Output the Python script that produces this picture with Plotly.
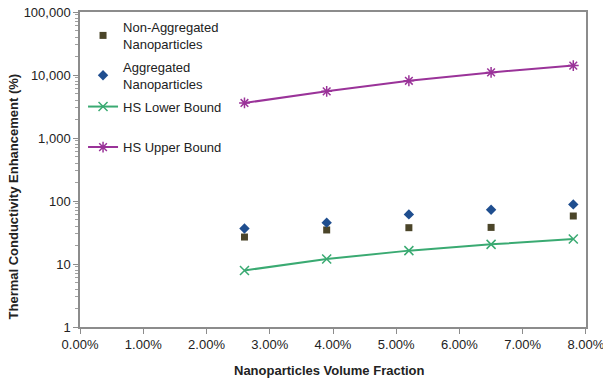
import plotly.graph_objects as go

x_vals = [0.026, 0.039, 0.052, 0.065, 0.078]
non_agg = [26.8, 34.7, 37.7, 38.1, 57.8]
agg = [36.7, 45.3, 61.3, 72.7, 88.3]
hs_lower = [7.9, 12.0, 16.3, 20.5, 24.9]
hs_upper = [3600, 5500, 8100, 11000, 14100]

x_ticks = [0, 0.01, 0.02, 0.03, 0.04, 0.05, 0.06, 0.07, 0.08]
x_ticktext = ["0.00%", "1.00%", "2.00%", "3.00%", "4.00%", "5.00%", "6.00%", "7.00%", "8.00%"]
y_ticks = [1, 10, 100, 1000, 10000, 100000]
y_ticktext = ["1", "10", "100", "1,000", "10,000", "100,000"]

FONT = "Liberation Sans, Arial, sans-serif"
FS = 13
TXT = "#222222"

fig = go.Figure()
fig.add_trace(go.Scatter(x=x_vals, y=non_agg, mode="markers", name="Non-Aggregated<br>Nanoparticles",
                         marker=dict(symbol="square", size=7, color="#4b4529"),
                         legend="legend", legendgroup="a"))
fig.add_trace(go.Scatter(x=x_vals, y=agg, mode="markers", name="Aggregated<br>Nanoparticles",
                         marker=dict(symbol="diamond", size=8, color="#1f4e8f"),
                         legend="legend", legendgroup="b"))
fig.add_trace(go.Scatter(x=x_vals, y=hs_lower, mode="lines+markers", name="HS Lower Bound",
                         line=dict(color="#3aaa72", width=2),
                         marker=dict(symbol="x-thin-open", size=9, color="#3aaa72", line=dict(width=1.5, color="#3aaa72")),
                         legend="legend", legendgroup="c"))
fig.add_trace(go.Scatter(x=x_vals, y=hs_upper, mode="lines+markers", name="HS Upper Bound",
                         line=dict(color="#9a3399", width=2),
                         marker=dict(symbol="asterisk-open", size=9, color="#9a3399", line=dict(width=1.5, color="#9a3399")),
                         legend="legend2"))

fig.update_layout(
    width=603, height=382,
    margin=dict(l=80, r=17, t=12, b=55, autoexpand=False),
    paper_bgcolor="white", plot_bgcolor="white",
    font=dict(family=FONT, size=FS, color=TXT),
    showlegend=True,
    legend=dict(x=0.006, y=1.0, xanchor="left", yanchor="top", bgcolor="rgba(0,0,0,0)",
                font=dict(family=FONT, size=FS, color=TXT), tracegroupgap=3, itemwidth=30),
    legend2=dict(x=0.006, y=0.571, xanchor="left", yanchor="middle", bgcolor="rgba(0,0,0,0)",
                 font=dict(family=FONT, size=FS, color=TXT), itemwidth=30),
    annotations=[
        dict(text="<b>Thermal Conductivity Enhancement (%)</b>", xref="paper", yref="paper",
             x=-0.132, y=0.415, xanchor="center", yanchor="middle", textangle=-90,
             showarrow=False, font=dict(family=FONT, size=FS, color=TXT)),
        dict(text="<b>Nanoparticles Volume Fraction</b>", xref="paper", yref="paper",
             x=0.493, y=-0.137, xanchor="center", yanchor="middle",
             showarrow=False, font=dict(family=FONT, size=FS, color=TXT)),
    ],
)

fig.update_xaxes(range=[-0.00001, 0.08001], tickvals=x_ticks, ticktext=x_ticktext,
                 showgrid=False, zeroline=False, automargin=False, ticklabeloverflow="allow",
                 showline=True, linecolor="#8c8c8c", linewidth=1.5, mirror=True,
                 ticks="outside", ticklen=5, tickcolor="#8c8c8c",
                 tickfont=dict(size=FS, color=TXT))
fig.update_yaxes(type="log", range=[0, 5.0001], tickvals=y_ticks, ticktext=y_ticktext,
                 showgrid=False, zeroline=False, automargin=False,
                 showline=True, linecolor="#8c8c8c", linewidth=1.5, mirror=True,
                 ticks="outside", ticklen=5, tickcolor="#8c8c8c",
                 minor=dict(ticks="outside", ticklen=3, tickcolor="#a0a0a0", dtick="D1"),
                 tickfont=dict(size=FS, color=TXT))

fig.write_html("out.html")
